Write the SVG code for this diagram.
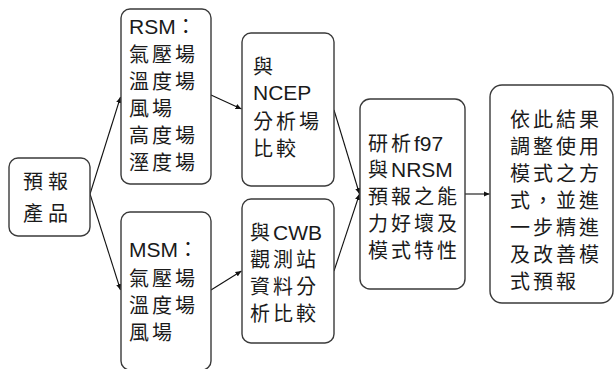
<svg xmlns="http://www.w3.org/2000/svg" width="614" height="369" viewBox="0 0 614 369">
<style>
.box{fill:#fff;stroke:#3a3a3a;stroke-width:1.4}
.t{font-family:"Liberation Sans","Noto Sans CJK TC",sans-serif;font-size:20px;fill:#1a1a1a;letter-spacing:3px}
.l{font-size:21px;letter-spacing:0}
.c{fill:none;stroke:#111;stroke-width:1.1;marker-end:url(#ah)}
</style>
<defs>
<marker id="ah" viewBox="0 0 8 8" refX="8" refY="4" markerWidth="6" markerHeight="6" markerUnits="userSpaceOnUse" orient="auto">
<path d="M0,0.5 L8,4 L0,7.5 z" fill="#111"/>
</marker>
</defs>
<rect width="614" height="369" fill="#fff"/>
<g id="connectors">
<line class="c" x1="90" y1="194" x2="120.5" y2="97"/>
<line class="c" x1="90" y1="194" x2="120.5" y2="290"/>
<line class="c" x1="211" y1="95" x2="241.5" y2="109"/>
<line class="c" x1="211" y1="290" x2="241.5" y2="271"/>
<line class="c" x1="334" y1="110" x2="359.5" y2="194"/>
<line class="c" x1="334" y1="271" x2="359.5" y2="194"/>
<line class="c" x1="465" y1="194" x2="489.5" y2="194"/>
</g>
<g id="product">
<rect class="box" x="9" y="158" width="81" height="78" rx="9"/>
<text class="t" style="letter-spacing:5px"><tspan x="23" y="189">預報</tspan><tspan x="23" y="221">產品</tspan></text>
</g>
<g id="rsm">
<rect class="box" x="121" y="9" width="90" height="175" rx="9"/>
<text class="t"><tspan x="129" y="34" class="l">RSM</tspan><tspan>：</tspan><tspan x="129" y="62">氣壓場</tspan><tspan x="129" y="89">溫度場</tspan><tspan x="129" y="116">風場</tspan><tspan x="129" y="143">高度場</tspan><tspan x="129" y="170">溼度場</tspan></text>
</g>
<g id="msm">
<rect class="box" x="121" y="212" width="90" height="158" rx="9"/>
<text class="t"><tspan x="129" y="257" class="l">MSM</tspan><tspan>：</tspan><tspan x="129" y="286">氣壓場</tspan><tspan x="129" y="313">溫度場</tspan><tspan x="129" y="340">風場</tspan></text>
</g>
<g id="ncep">
<rect class="box" x="242" y="33" width="92" height="153" rx="9"/>
<text class="t"><tspan x="253" y="74">與</tspan><tspan x="253" y="100" class="l">NCEP</tspan><tspan x="253" y="129">分析場</tspan><tspan x="253" y="156">比較</tspan></text>
</g>
<g id="cwb">
<rect class="box" x="242" y="199" width="92" height="144" rx="9"/>
<text class="t"><tspan x="250" y="240">與</tspan><tspan class="l">CWB</tspan><tspan x="250" y="267">觀測站</tspan><tspan x="250" y="294">資料分</tspan><tspan x="250" y="321">析比較</tspan></text>
</g>
<g id="analysis">
<rect class="box" x="360" y="99" width="105" height="190" rx="10"/>
<text class="t"><tspan x="368" y="151">研析</tspan><tspan class="l">f97</tspan><tspan x="368" y="177">與</tspan><tspan class="l">NRSM</tspan><tspan x="368" y="204">預報之能</tspan><tspan x="368" y="231">力好壞及</tspan><tspan x="368" y="258">模式特性</tspan></text>
</g>
<g id="result">
<rect class="box" x="490" y="85" width="123" height="218" rx="12"/>
<text class="t"><tspan x="510" y="127">依此結果</tspan><tspan x="510" y="154">調整使用</tspan><tspan x="510" y="181">模式之方</tspan><tspan x="510" y="208">式，並進</tspan><tspan x="510" y="235">一步精進</tspan><tspan x="510" y="262">及改善模</tspan><tspan x="510" y="289">式預報</tspan></text>
</g>
</svg>
